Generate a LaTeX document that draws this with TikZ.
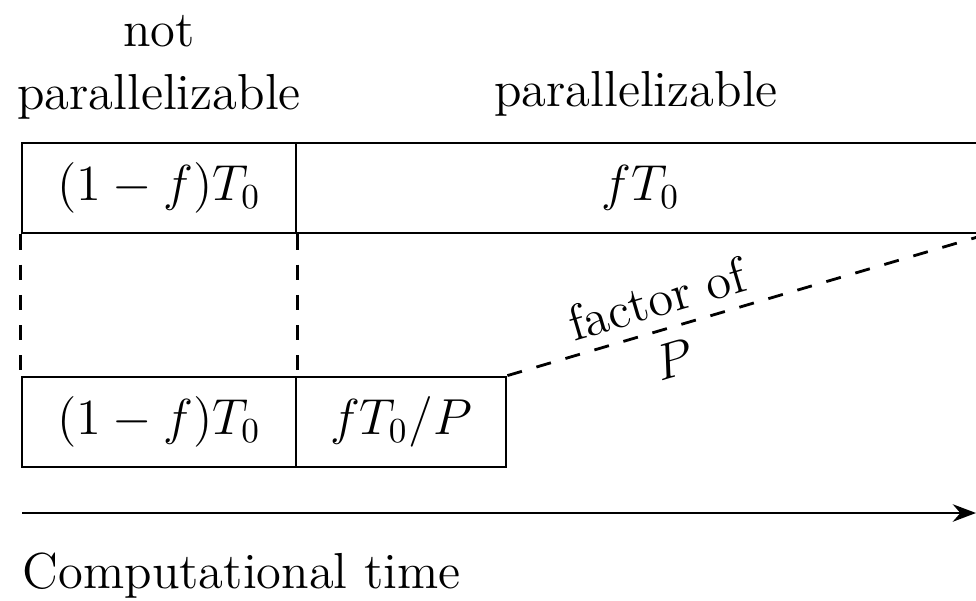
\documentclass[tikz,border=0pt]{standalone}
\usepackage{amsmath,amssymb}
\usepackage{tikz}
\usetikzlibrary{arrows.meta, positioning}

\begin{document}
\begin{tikzpicture}[>=Stealth,
    part/.style={draw, thick, rectangle, minimum height=9mm, inner sep=0pt, font=\Large},
    guide/.style={thick, dash pattern=on 4.3pt off 4.3pt}]
  \useasboundingbox (0,0) rectangle (9.76,6);

  % Serial run: both parts take their full time
  \node[part, minimum width=27.4mm] (tserial) at (1.59, 4.12) {$(1-f)T_0$};
  \node[part, minimum width=68.9mm] (tpar) at (6.405, 4.12) {$fT_0$};

  % Parallel run: parallel part shrunk by P
  \node[part, minimum width=27.4mm] (bserial) at (1.59, 1.78) {$(1-f)T_0$};
  \node[part, minimum width=21.0mm] (bpar) at (4.01, 1.78) {$fT_0/P$};

  % Headings over the top row
  \node[align=center, anchor=south, inner sep=0pt, font=\Large] (hserial) at (1.59, 4.80) {not\\parallelizable};
  \node[anchor=base, inner sep=0pt, font=\Large] (hpar) at (6.36, 4.93) {parallelizable};

  % Guides down from the top row
  \draw[guide] (tserial.south west) -- (bserial.north west);
  \draw[guide] (tserial.south east) -- (bserial.north east);
  \draw[guide] (bpar.north east) -- node[pos=0.33, sloped, align=center, font=\Large, inner sep=1pt] (factor) {factor of\\$P$} (tpar.south east);

  % Time axis
  \coordinate (tstart) at (0.22, 0.87);
  \coordinate (tend) at (9.76, 0.87);
  \draw[->, thick] (tstart) -- (tend);
  \node[anchor=base west, inner sep=0pt, font=\Large] (taxis) at (0.22, 0.12) {Computational time};
\end{tikzpicture}
\end{document}
